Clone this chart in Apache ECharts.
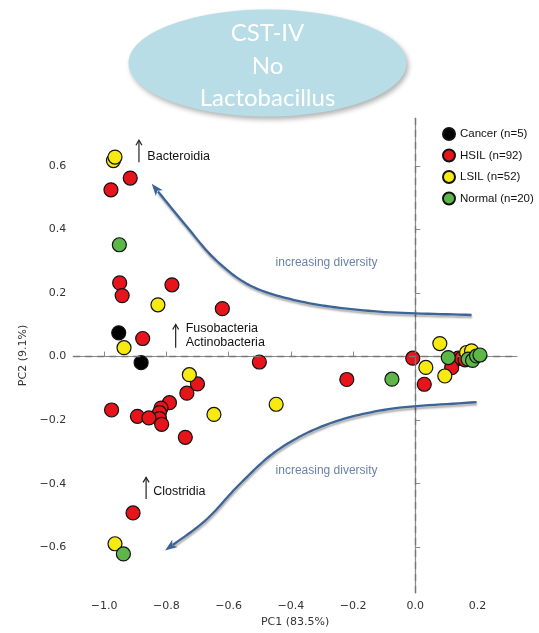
<!DOCTYPE html>
<html><head><meta charset="utf-8">
<script src="https://cdn.jsdelivr.net/npm/echarts@6/dist/echarts.min.js"></script>
<style>html,body{margin:0;padding:0;background:#fff}#c{width:539px;height:633px}</style>
</head><body><div id="c"></div>
<script>
// ---- data (PC1, PC2) ----
const groupNames = ['Cancer (n=5)', 'HSIL (n=92)', 'LSIL (n=52)', 'Normal (n=20)'];
const groupColors = ['#000000', '#e8141c', '#f6ea12', '#5cb648'];
const cancer = [[-0.953, 0.075], [-0.881, -0.019]];
const hsil = [
  [-0.916, 0.562], [-0.978, 0.525], [-0.950, 0.232], [-0.942, 0.192], [-0.782, 0.226],
  [-0.620, 0.151], [-0.876, 0.057], [-0.501, -0.017], [-0.700, -0.086], [-0.734, -0.115],
  [-0.976, -0.168], [-0.790, -0.145], [-0.817, -0.162], [-0.822, -0.176], [-0.822, -0.195],
  [-0.815, -0.213], [-0.893, -0.188], [-0.856, -0.193], [-0.739, -0.254], [-0.907, -0.492],
  [-0.220, -0.072], [-0.008, -0.005], [0.029, -0.087], [0.138, -0.005], [0.117, -0.035],
  [0.149, -0.006], [0.160, -0.010]
];
const lsil = [
  [-0.970, 0.617], [-0.965, 0.628], [-0.827, 0.163], [-0.936, 0.028], [-0.726, -0.057],
  [-0.647, -0.182], [-0.447, -0.150], [-0.965, -0.589], [0.034, -0.034], [0.079, 0.041],
  [0.095, -0.061], [0.165, 0.013], [0.181, 0.018]
];
const normal = [
  [-0.951, 0.352], [-0.938, -0.621], [-0.075, -0.071], [0.106, -0.003], [0.170, -0.008],
  [0.184, -0.012], [0.197, 0.002], [0.208, 0.005]
];
const xTicks = [-1.0, -0.8, -0.6, -0.4, -0.2, 0.0, 0.2];
const yTicks = [-0.6, -0.4, -0.2, 0.0, 0.2, 0.4, 0.6];
const xAxisName = 'PC1 (83.5%)';
const yAxisName = 'PC2 (9.1%)';
const titleLines = ['CST-IV', 'No', 'Lactobacillus'];
// annotation paths (data units)
const topArrowPath = [[0.181, 0.131], [-0.135, 0.143], [-0.370, 0.174], [-0.531, 0.224], [-0.643, 0.306], [-0.740, 0.416], [-0.847, 0.544]];
const bottomArrowPath = [[0.197, -0.143], [-0.103, -0.168], [-0.296, -0.218], [-0.445, -0.296], [-0.563, -0.400], [-0.676, -0.517], [-0.804, -0.610]];
const diversityLabels = [{text: 'increasing diversity', at: [-0.285, 0.297]}, {text: 'increasing diversity', at: [-0.285, -0.359]}];
const taxaNotes = [
  {lines: ['Bacteroidia'], arrowX: -0.888, arrowY: [0.612, 0.681], textAt: [-0.861, 0.630]},
  {lines: ['Fusobacteria', 'Actinobacteria'], arrowX: -0.770, arrowY: [0.028, 0.101], textAt: [-0.738, 0.067]},
  {lines: ['Clostridia'], arrowX: -0.865, arrowY: [-0.448, -0.380], textAt: [-0.842, -0.426]}
];

const fmt = v => (v < 0 ? '\u2212' : '') + Math.abs(v).toFixed(1);
const seriesData = [cancer, hsil, lsil, normal];

const chart = echarts.init(document.getElementById('c'), null, {renderer: 'canvas'});
const axisCommon = {
  type: 'value',
  axisLine: {show: true, lineStyle: {color: '#8a8a8a', width: 1.2}},
  splitLine: {show: false},
  nameTextStyle: {color: '#333', fontSize: 11, fontFamily: 'DejaVu Sans'},
  nameLocation: 'middle'
};
const mkTick = vals => ({show: true, inside: true, length: 5, lineStyle: {color: '#8a8a8a'}, customValues: vals});
const mkLabel = (vals, m) => ({formatter: fmt, color: '#333', fontSize: 11, fontFamily: 'DejaVu Sans', margin: m, customValues: vals});
const option = {
  animation: false,
  backgroundColor: '#fff',
  grid: {left: 73.3, right: 22, top: 118, bottom: 38.7},
  xAxis: Object.assign({}, axisCommon, {min: -1.099, max: 0.327, name: xAxisName, nameGap: 24,
    axisTick: mkTick(xTicks), axisLabel: mkLabel(xTicks, 8)}),
  yAxis: Object.assign({}, axisCommon, {min: -0.744, max: 0.751, name: yAxisName, nameGap: 33,
    axisTick: mkTick(yTicks), axisLabel: mkLabel(yTicks, 7)}),
  legend: {
    orient: 'vertical', left: 437, top: 122, itemWidth: 12, itemHeight: 12, itemGap: 7.5,
    icon: 'circle', data: groupNames,
    textStyle: {fontSize: 11.5, fontFamily: 'Liberation Sans', color: '#111'}
  },
  series: groupNames.map((name, i) => ({
    name: name, type: 'scatter', data: seriesData[i], symbol: 'circle', symbolSize: 14,
    itemStyle: {color: groupColors[i], borderColor: '#111', borderWidth: 1.2, opacity: 1},
    z: 3 + i,
    markLine: i === 0 ? {
      silent: true, symbol: 'none', animation: false,
      label: {show: false},
      lineStyle: {color: '#777', type: [7, 5], width: 1.4},
      data: [{xAxis: 0}, {yAxis: 0}]
    } : undefined
  }))
};
chart.setOption(option);

const P = p => chart.convertToPixel({gridIndex: 0}, p);
const graphics = [];
// title ellipse
graphics.push({type: 'ellipse', shape: {cx: 267.5, cy: 63, rx: 139, ry: 53.5},
  style: {fill: '#b8dde7', shadowColor: 'rgba(0,0,0,0.3)', shadowBlur: 5, shadowOffsetX: 2, shadowOffsetY: 3}, z: 10});
[33.5, 66.5, 98.5].forEach((y, i) => graphics.push({type: 'text', x: 267.5, y: y, z: 11,
  style: {text: titleLines[i], fill: '#fff', font: '24px Lato', align: 'center', verticalAlign: 'middle'}}));

// centripetal Catmull-Rom sampling of an annotation path (pixel space)
function catmull(pts, steps) {
  const out = [];
  const d = (a, b) => Math.pow(Math.hypot(b[0] - a[0], b[1] - a[1]), 0.5) || 1e-4;
  for (let i = 0; i < pts.length - 1; i++) {
    const p1 = pts[i], p2 = pts[i + 1];
    const p0 = i > 0 ? pts[i - 1] : [2 * p1[0] - p2[0], 2 * p1[1] - p2[1]];
    const p3 = i + 2 < pts.length ? pts[i + 2] : [2 * p2[0] - p1[0], 2 * p2[1] - p1[1]];
    const t0 = 0, t1 = t0 + d(p0, p1), t2 = t1 + d(p1, p2), t3 = t2 + d(p2, p3);
    for (let k = 0; k < steps; k++) {
      const t = t1 + (t2 - t1) * k / steps;
      const L = (a, b, ta, tb) => [0, 1].map(j => ((tb - t) * a[j] + (t - ta) * b[j]) / (tb - ta));
      const A1 = L(p0, p1, t0, t1), A2 = L(p1, p2, t1, t2), A3 = L(p2, p3, t2, t3);
      const B1 = L(A1, A2, t0, t2), B2 = L(A2, A3, t1, t3);
      out.push(L(B1, B2, t1, t2));
    }
  }
  out.push(pts[pts.length - 1]);
  return out;
}
function curveArrow(path) {
  const pts = path.map(P);
  const dense = catmull(pts, 16);
  const n = dense.length;
  const [ex, ey] = dense[n - 1];
  const [px, py] = dense[n - 4];
  const a = Math.atan2(ey - py, ex - px);
  const c = Math.cos(a), s = Math.sin(a);
  const L = 12, W = 4.5;
  const bx = ex - L * c, by = ey - L * s;
  const head = [[ex, ey], [bx + W * s, by - W * c], [ex - 0.75 * L * c, ey - 0.75 * L * s], [bx - W * s, by + W * c]];
  const linePts = dense.filter(p => Math.hypot(p[0] - ex, p[1] - ey) > 7);
  return [
    {type: 'polyline', shape: {points: linePts}, z: 8,
      style: {stroke: '#3d6498', lineWidth: 2.3, fill: null, lineJoin: 'round', shadowColor: 'rgba(0,0,0,0.35)', shadowBlur: 2, shadowOffsetX: 0.5, shadowOffsetY: 2.2}},
    {type: 'polygon', shape: {points: head}, z: 8, style: {fill: '#3d6498'}}
  ];
}
graphics.push(...curveArrow(topArrowPath));
graphics.push(...curveArrow(bottomArrowPath));
diversityLabels.forEach(d => {
  const [x, y] = P(d.at);
  graphics.push({type: 'text', x: x, y: y, z: 9,
    style: {text: d.text, fill: '#6a82aa', font: '12px "Liberation Sans"', align: 'center', verticalAlign: 'middle'}});
});
taxaNotes.forEach(t => {
  const [ax, ay0] = P([t.arrowX, t.arrowY[0]]);
  const ay1 = P([t.arrowX, t.arrowY[1]])[1];
  graphics.push({type: 'line', shape: {x1: ax, y1: ay0, x2: ax, y2: ay1}, z: 9, style: {stroke: '#222', lineWidth: 1.2}});
  graphics.push({type: 'polyline', shape: {points: [[ax - 3, ay1 + 5], [ax, ay1], [ax + 3, ay1 + 5]]}, z: 9, style: {stroke: '#222', lineWidth: 1.2, fill: null}});
  const [tx, ty] = P(t.textAt);
  const lh = 14.5;
  t.lines.forEach((ln, k) => {
    graphics.push({type: 'text', x: tx, y: ty + (k - (t.lines.length - 1) / 2) * lh, z: 9,
      style: {text: ln, fill: '#111', font: '12.5px "Liberation Sans"', align: 'left', verticalAlign: 'middle'}});
  });
});
chart.setOption({graphic: graphics});
</script>
</body></html>
